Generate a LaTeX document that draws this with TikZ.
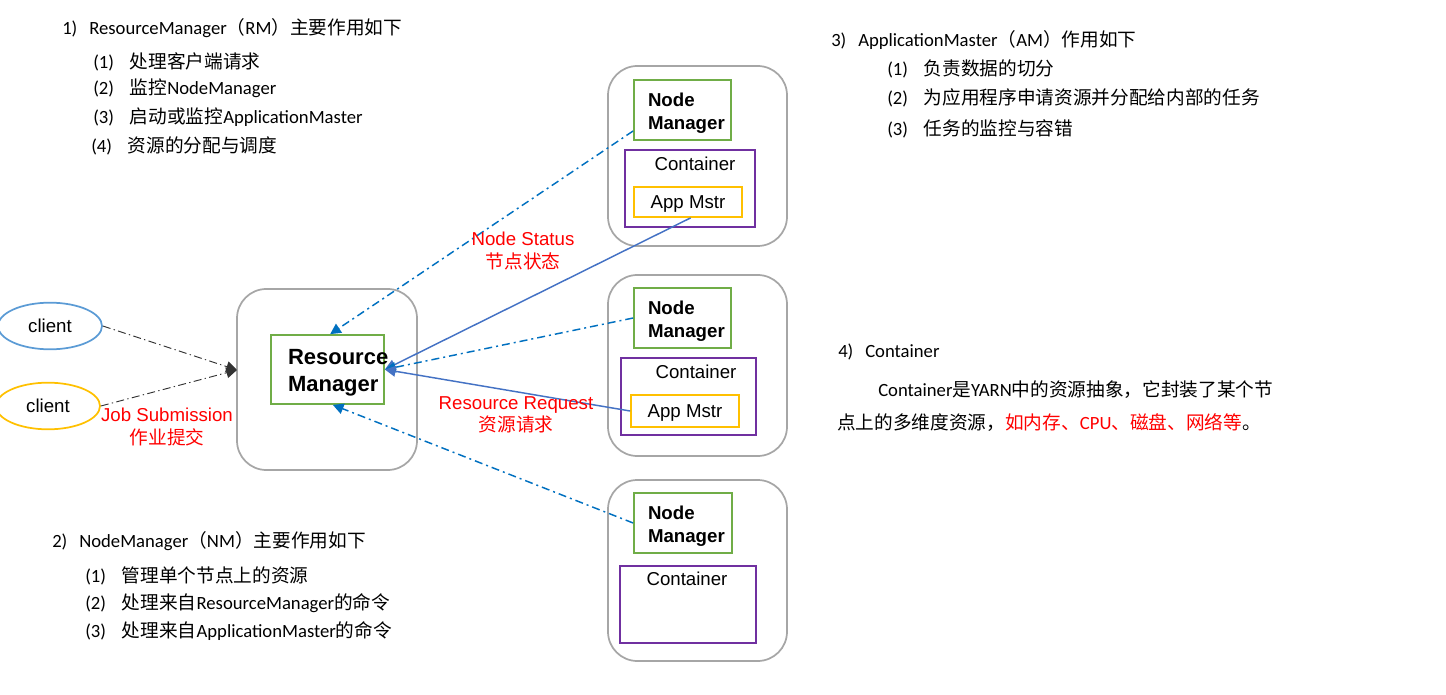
\documentclass[tikz,border=0pt]{standalone}
\usepackage{fontspec}
\setmainfont{Liberation Sans}
\newfontfamily\cjk{Noto Sans CJK SC}
\newfontfamily\lat{Carlito}
\usetikzlibrary{arrows.meta,calc,shapes.geometric}
\definecolor{cblue}{HTML}{5B9BD5}
\definecolor{cgold}{HTML}{FFC000}
\definecolor{cgreen}{HTML}{70AD47}
\definecolor{cpurple}{HTML}{7030A0}
\definecolor{cgray}{HTML}{A6A6A6}
\definecolor{dblue}{HTML}{0070C0}
\definecolor{sblue}{HTML}{4472C4}
\definecolor{cred}{HTML}{FF0000}
\newcommand\latn[1]{{\lat #1}}
\newcommand\hd[1]{\makebox[20.25pt][l]{\lat #1)}}
\newcommand\itm[1]{\makebox[27.5pt][l]{\lat (#1)}}
\tikzset{
  txt/.style={anchor=west,inner sep=0pt,font=\cjk\fontsize{14}{17}\selectfont},
  lbl/.style={align=center,inner sep=0pt,text=cred,font=\fontsize{14}{17}\selectfont},
  outerbox/.style={draw=cgray,line width=1.3pt,rounded corners=22pt},
  greenbox/.style={draw=cgreen,line width=1.3pt,align=left,inner ysep=0pt},
  contbox/.style={draw=cpurple,line width=1.3pt,inner sep=0pt},
  ambox/.style={draw=cgold,line width=1.3pt,inner sep=0pt,text depth=0pt,font=\fontsize{14}{17}\selectfont},
  clientnode/.style={ellipse,line width=1.3pt,minimum width=78pt,minimum height=35pt,inner sep=0pt,font=\fontsize{14}{17}\selectfont},
  nmfont/.style={font=\bfseries\fontsize{14}{17}\selectfont},
  dashcon/.style={draw=dblue,line width=1.1pt,dash pattern=on 6pt off 3pt on 1.5pt off 3pt,-{Triangle[length=8pt,width=8pt]}},
  solidcon/.style={draw=sblue,line width=1.1pt,-{Triangle[length=8pt,width=8pt]}},
  jobcon/.style={draw=black!80,line width=0.7pt,dash pattern=on 6pt off 2.5pt on 1pt off 2.5pt,-{Triangle[length=8pt,width=8pt]}},
}
\begin{document}
\begin{tikzpicture}[x=0.75pt,y=-0.75pt]
\path[use as bounding box] (0,0) rectangle (1446,695);

% left-top text
\node[txt] (t1) at (62,28) {\hd{1}\latn{ResourceManager}（\latn{RM}）主要作用如下};
\node[txt] (t1a) at (93,62) {\itm{1}处理客户端请求};
\node[txt] (t1b) at (93,88) {\itm{2}监控\latn{NodeManager}};
\node[txt] (t1c) at (93,117) {\itm{3}启动或监控\latn{ApplicationMaster}};
\node[txt] (t1d) at (91,146) {\itm{4}资源的分配与调度};

% left-bottom text
\node[txt] (t2) at (52,541) {\hd{2}\latn{NodeManager}（\latn{NM}）主要作用如下};
\node[txt] (t2a) at (85,576) {\itm{1}管理单个节点上的资源};
\node[txt] (t2b) at (85,603) {\itm{2}处理来自\latn{ResourceManager}的命令};
\node[txt] (t2c) at (85,631) {\itm{3}处理来自\latn{ApplicationMaster}的命令};

% right-top text
\node[txt] (t3) at (831,40) {\hd{3}\latn{ApplicationMaster}（\latn{AM}）作用如下};
\node[txt] (t3a) at (887,69) {\itm{1}负责数据的切分};
\node[txt] (t3b) at (887,98) {\itm{2}为应用程序申请资源并分配给内部的任务};
\node[txt] (t3c) at (887,129) {\itm{3}任务的监控与容错};

% right-middle text
\node[txt] (t4) at (838,352) {\hd{4}\latn{Container}};
\node[txt] (t4a) at (878,390) {\latn{Container}是\latn{YARN}中的资源抽象，它封装了某个节};
\node[txt] (t4b) at (837,423) {点上的多维度资源，\textcolor{cred}{如内存、\latn{CPU}、磁盘、网络等}。};

% clients
\node[clientnode,draw=cblue] (c1) at (50,326) {client};
\node[clientnode,draw=cgold] (c2) at (48,406) {client};

% Resource manager
\node[outerbox,minimum width=135pt,minimum height=135.75pt] (rmo) at (327,379.5) {};
\node[greenbox,inner xsep=12.75pt,text width=59.25pt,minimum height=51.75pt,font=\bfseries\fontsize{16.5}{20}\selectfont] (rm) at (327.5,369.5) {\rule{0pt}{16pt}Resource\\Manager};
\coordinate (jt) at (237,370);

% Node 1
\node[outerbox,minimum width=134.25pt,minimum height=135pt] (n1) at (697.5,156) {};
\node[greenbox,nmfont,inner xsep=10.5pt,text width=51.75pt,minimum height=45pt] (nm1) at (682.5,110) {\rule{0pt}{14.5pt}Node\\Manager};
\node[contbox,minimum width=97.5pt,minimum height=57.75pt] (ct1) at (690,188.5) {};
\node[inner sep=0pt,font=\fontsize{14}{17}\selectfont] (ct1l) at (695,164) {Container};
\node[ambox,minimum width=81pt,minimum height=22.5pt] (am1) at (688,202) {App Mstr};

% Node 2
\node[outerbox,minimum width=134.25pt,minimum height=135.75pt] (n2) at (697.5,365.5) {};
\node[greenbox,nmfont,inner xsep=10.5pt,text width=51.75pt,minimum height=45pt] (nm2) at (682.5,318) {\rule{0pt}{14.5pt}Node\\Manager};
\node[contbox,minimum width=101.25pt,minimum height=57.75pt] (ct2) at (688.5,396.5) {};
\node[inner sep=0pt,font=\fontsize{14}{17}\selectfont] (ct2l) at (696,372) {Container};
\node[ambox,minimum width=81pt,minimum height=24pt] (am2) at (685,411) {App Mstr};

% Node 3
\node[outerbox,minimum width=134.25pt,minimum height=135.75pt] (n3) at (697.5,570.5) {};
\node[greenbox,nmfont,inner xsep=10.5pt,text width=52.5pt,minimum height=45pt] (nm3) at (683,523) {\rule{0pt}{14.5pt}Node\\Manager};
\node[contbox,minimum width=102pt,minimum height=57.75pt] (ct3) at (688,604.5) {};
\node[inner sep=0pt,font=\fontsize{14}{17}\selectfont] (ct3l) at (687,579) {Container};

% connectors
\draw[jobcon] (c1.east) -- (jt);
\draw[jobcon] (c2.east) -- (jt);
\draw[dashcon] ([yshift=-15.75pt]nm1.west) -- ([xshift=2pt]rm.north);
\draw[solidcon] ([xshift=2pt]am1.south) -- (rm.east);
\draw[dashcon] (nm2.west) -- (rm.east);
\draw[solidcon] (am2.west) -- (rm.east);
\draw[dashcon] (nm3.west) -- ([xshift=4pt]rm.south);

% labels
\node[lbl] (ljob) at (167,427) {Job Submission\\{\cjk 作业提交}};
\node[lbl] (lns) at (523,251) {Node Status\\{\cjk 节点状态}};
\node[lbl] (lrr) at (516,415) {Resource Request\\{\cjk 资源请求}};
\end{tikzpicture}
\end{document}
